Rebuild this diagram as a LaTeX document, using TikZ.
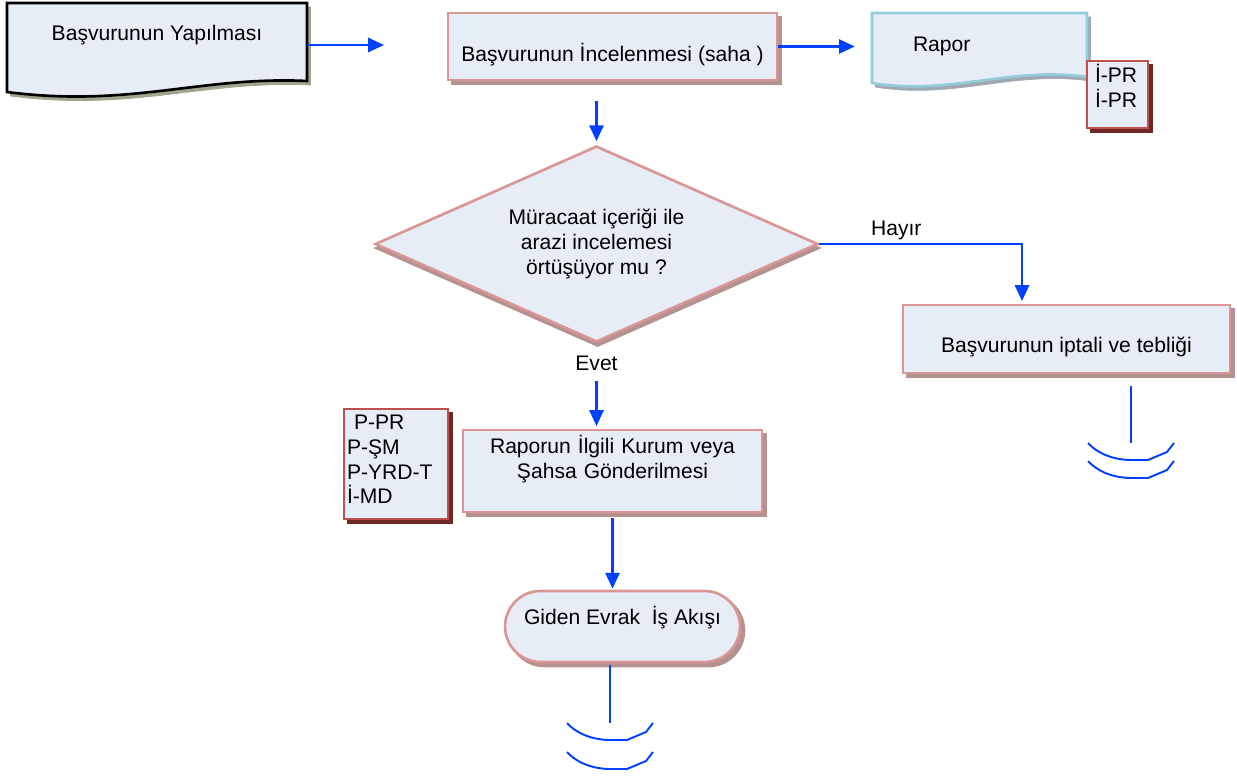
\documentclass[tikz,border=0pt]{standalone}
\usepackage{fontspec}
\setmainfont{Liberation Sans}
\usetikzlibrary{arrows.meta,shapes.geometric,shapes.misc,shadows,calc}
\tikzset{every picture/.style={/utils/exec={\fontsize{12}{14}\selectfont}}}
\definecolor{box-fill}{HTML}{E7EDF7}
\definecolor{box-line}{HTML}{D99694}
\definecolor{box-shadow}{HTML}{B3928F}
\definecolor{ref-line}{HTML}{C0504D}
\definecolor{ref-shadow}{HTML}{6E2826}
\definecolor{doc-shadow}{HTML}{9DA58A}
\definecolor{rapor-line}{HTML}{92CDDC}
\definecolor{rapor-shadow}{HTML}{A0A8B2}
\definecolor{flow-blue}{HTML}{0040FF}

\begin{document}
\begin{tikzpicture}[x=0.02cm, y=-0.02cm,
    box/.style={rectangle, draw=box-line, line width=1.5pt, fill=box-fill,
        copy shadow={shadow xshift=2.3pt, shadow yshift=-2.3pt, fill=box-shadow, draw=box-shadow}},
    refbox/.style={rectangle, draw=ref-line, line width=1.5pt, fill=box-fill, align=left, inner ysep=1pt,
        copy shadow={shadow xshift=2.3pt, shadow yshift=-2.3pt, fill=ref-shadow, draw=ref-shadow}},
    doctext/.style={rectangle, draw=none},
    flow/.style={draw=flow-blue, line width=1.4pt, -{Triangle[length=9pt,width=8pt]}},
    tail/.style={draw=flow-blue, line width=1.4pt},
    wave/.style={draw=flow-blue, line width=1.1pt}]

    \useasboundingbox (0,0) rectangle (1237,776);

    % document shapes
    \draw[line width=1.5pt, fill=box-fill,
        copy shadow={shadow xshift=2pt, shadow yshift=-2.3pt, fill=doc-shadow, draw=doc-shadow}]
        (7,3) -- (307,3) -- (307,81) .. controls (200,76) and (130,108) .. (7,92) -- cycle;
    \node[doctext, minimum width=6cm, minimum height=1.68cm, text depth=14pt] (basvuru) at (157,45) {Başvurunun Yapılması};

    \draw[draw=rapor-line, line width=1.5pt, fill=box-fill,
        copy shadow={shadow xshift=2pt, shadow yshift=-2.3pt, fill=rapor-shadow, draw=rapor-shadow}]
        (872,13) -- (1087,13) -- (1087,77) .. controls (1010,66) and (950,96) .. (872,83) -- cycle;
    \node[doctext, minimum width=4.3cm, minimum height=1.34cm, text width=2.66cm, inner xsep=0.82cm, align=left] (rapor) at (979.5,46.5) {Rapor};

    % boxes
    \node[box, minimum width=6.58cm, minimum height=1.34cm, text height=20pt] (incele) at (612.5,46.5) {Başvurunun İncelenmesi (saha )};
    \node[refbox, minimum width=1.22cm, minimum height=1.34cm, text width=0.9cm, inner xsep=0.16cm, text depth=24pt] (ipr) at (1117.5,94.5) {İ-PR\\İ-PR};

    \node[diamond, aspect=2.26, draw=box-line, line width=1.5pt, fill=box-fill, align=center, inner sep=0pt,
        minimum width=8.86cm, minimum height=3.92cm,
        copy shadow={shadow xshift=0.6pt, shadow yshift=-2.3pt, fill=box-shadow, draw=box-shadow}]
        (karar) at (596.5,244) {Müracaat içeriği ile\\arazi incelemesi\\örtüşüyor mu ?};

    \node[box, minimum width=6.54cm, minimum height=1.36cm, text height=18pt] (iptal) at (1066.5,339) {Başvurunun iptali ve tebliği};
    \node[box, minimum width=5.98cm, minimum height=1.64cm, text width=5.78cm, inner xsep=0.1cm, inner ysep=0pt, align=center, text depth=30pt] (gonder) at (612.5,471) {Raporun İlgili Kurum veya\\Şahsa Gönderilmesi};
    \node[refbox, minimum width=2.08cm, minimum height=2.2cm, text width=1.96cm, inner xsep=0.06cm, text depth=47pt] (pbox) at (396,464) {\ P-PR\\P-ŞM\\P-YRD-T\\İ-MD};

    \node[box, rounded rectangle, minimum width=4.98cm, minimum height=1.42cm, text depth=13pt] (giden) at (622.5,626.5) {Giden Evrak\ \ İş Akışı};

    % connectors
    \draw[flow, shorten >=35.7pt] (basvuru.east) -- (basvuru.east -| incele.west);
    \draw[flow, shorten >=9.6pt] (incele.east) -- (incele.east -| rapor.west);
    \draw[flow, shorten <=11.3pt, shorten >=2pt] (incele.south -| karar.north) -- (karar.north);
    \draw[flow, shorten >=1.5pt] (karar.east) -| ($(iptal.north)+(-44.5,0)$) node[pos=0.19, above=-2.5pt] (hayir) {Hayır};
    \draw[flow, shorten <=21.5pt, shorten >=1.5pt] (karar.south) -- (karar.south |- gonder.north) node[pos=0.24] (evet) {Evet};
    \draw[flow, shorten <=2.8pt, shorten >=0.6pt] (gonder.south) -- (gonder.south |- giden.north);

    % open ends
    \coordinate (son1) at (610,723);
    \coordinate (son2) at (1131,443);
    \draw[tail, shorten <=1pt] (giden.south -| son1) -- (son1);
    \draw[tail, shorten <=6.8pt] (son2 |- iptal.south) -- (son2);
    \foreach \c/\gap in {son1/29, son2/18}
        \foreach \dy in {0,\gap}
            \draw[wave, shift={($(\c)+(0,\dy)$)}] (-43,0) .. controls (-32,12) and (-15,17) .. (0,17) -- (17,17) -- (36,9) -- (43,0);
\end{tikzpicture}
\end{document}
